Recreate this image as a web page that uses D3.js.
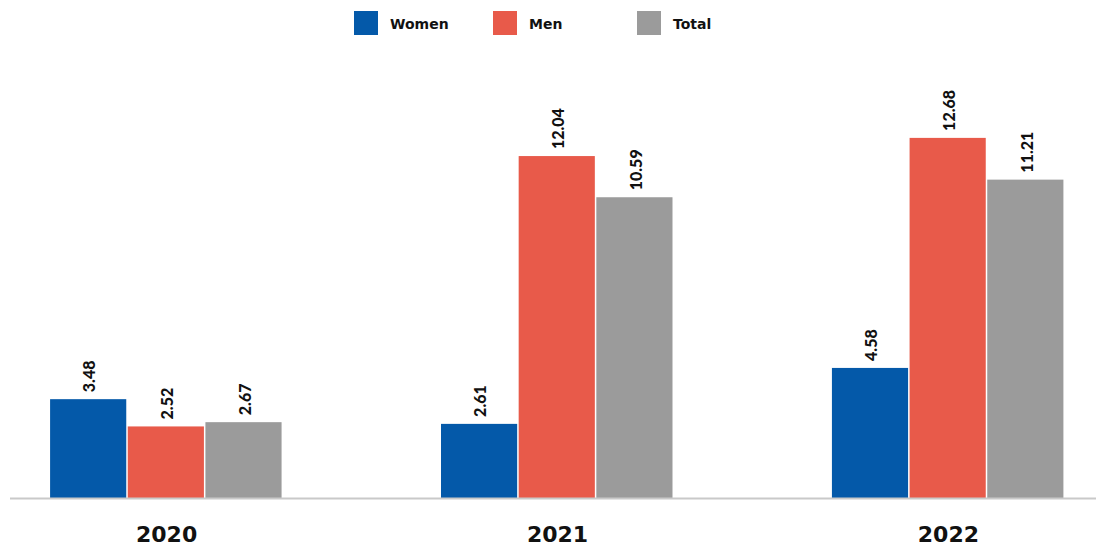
<!DOCTYPE html>
<html>
<head>
<meta charset="utf-8">
<script src="https://cdn.jsdelivr.net/npm/d3@7/dist/d3.min.js"></script>
<style>
  html, body { margin: 0; padding: 0; background: #ffffff; }
  svg { display: block; }
  text { font-family: Lato, "Open Sans", sans-serif; font-weight: 700; fill: #111; }
</style>
</head>
<body>
<svg id="chart" width="1096" height="549"></svg>
<script>
// Years on the x axis and the three series shown for each year
const years = ["2020", "2021", "2022"];
const seriesNames = ["Women", "Men", "Total"];
const women = [3.48, 2.61, 4.58];
const men = [2.52, 12.04, 12.68];
const total = [2.67, 10.59, 11.21];
const seriesColors = ["#0459a9", "#e85a4a", "#9b9b9b"];

const seriesValues = [women, men, total];
const rows = years.map((y, i) => ({
  year: y,
  values: seriesNames.map((s, j) => ({ series: s, value: seriesValues[j][i] }))
}));

const svg = d3.select("#chart");
const baseY = 498;

const x = d3.scaleBand().domain(years).range([11, 1104]).paddingInner(0.404).paddingOuter(0.1);
const xs = d3.scaleBand().domain(seriesNames).range([0, x.bandwidth()]).padding(0);
const y = d3.scaleLinear().domain([0, 14]).range([baseY, baseY - 14 * 28.4]);
const color = d3.scaleOrdinal().domain(seriesNames).range(seriesColors);

// bars
const groups = svg.append("g").selectAll("g")
  .data(rows).join("g")
  .attr("transform", d => `translate(${x(d.year)},0)`);

groups.selectAll("rect")
  .data(d => d.values).join("rect")
  .attr("x", d => xs(d.series))
  .attr("width", xs.bandwidth() - 1.5)
  .attr("y", d => y(d.value))
  .attr("height", d => y(0) - y(d.value))
  .attr("fill", d => color(d.series));

// value labels, rotated above each bar
groups.selectAll("text.val")
  .data(d => d.values).join("text")
  .attr("class", "val")
  .attr("transform", d => `translate(${xs(d.series) + xs.bandwidth() / 2},${y(d.value) - 7}) rotate(-90)`)
  .attr("text-anchor", "start")
  .attr("dominant-baseline", "central")
  .style("font-size", "16px")
  .style("font-weight", 900)
  .text(d => d.value.toFixed(2));

// baseline
svg.append("line")
  .attr("x1", 10).attr("x2", 1096)
  .attr("y1", baseY + 0.5).attr("y2", baseY + 0.5)
  .attr("stroke", "#c9c9c9").attr("stroke-width", 2);

// category axis labels
const xAxis = d3.axisBottom(x).tickSize(0).tickPadding(0);
const ax = svg.append("g").attr("transform", `translate(0,${baseY})`).call(xAxis);
ax.select(".domain").remove();
ax.selectAll(".tick text")
  .attr("y", 36)
  .attr("dy", "0.35em")
  .style("font-family", "'DejaVu Sans', sans-serif")
  .style("font-size", "22px")
  .style("font-weight", 700)
  .attr("fill", "#111");

// legend
const legendX = [354, 493, 637];
const legend = svg.append("g").selectAll("g")
  .data(seriesNames).join("g")
  .attr("transform", (d, i) => `translate(${legendX[i]},11)`);
legend.append("rect")
  .attr("width", 24).attr("height", 24)
  .attr("fill", d => color(d));
legend.append("text")
  .attr("x", 36).attr("y", 12.5)
  .attr("dominant-baseline", "central")
  .style("font-family", "'DejaVu Sans', sans-serif")
  .style("font-size", "14px")
  .style("font-weight", 700)
  .text(d => d);
</script>
</body>
</html>
